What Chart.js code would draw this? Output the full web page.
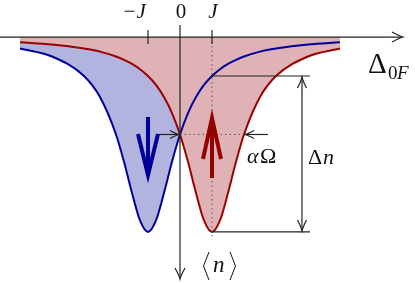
<!DOCTYPE html>
<html>
<head>
<meta charset="utf-8">
<script src="https://cdn.jsdelivr.net/npm/chart.js@4"></script>
<style>
  body { margin: 0; background: #fff; }
  canvas { display: block; }
</style>
</head>
<body>
<canvas id="chart" width="415" height="283"></canvas>
<script>
// detuning in units of J
const deltas = [-5, -4, -3, -2.5, -2, -1.75, -1.5, -1.25, -1, -0.75, -0.5, -0.25, 0,
  0.25, 0.5, 0.75, 1, 1.25, 1.5, 1.75, 2, 2.5, 3, 4, 5];
// <n> for spin down (blue) and spin up (red), normalised to the dip depth
const nDown = [0.059, 0.1, 0.2, 0.308, 0.5, 0.64, 0.8, 0.941, 1, 0.941, 0.8, 0.64, 0.5,
  0.39, 0.308, 0.246, 0.2, 0.165, 0.138, 0.117, 0.1, 0.075, 0.059, 0.038, 0.027];
const nUp = [0.027, 0.038, 0.059, 0.075, 0.1, 0.117, 0.138, 0.165, 0.2, 0.246, 0.308, 0.39, 0.5,
  0.64, 0.8, 0.941, 1, 0.941, 0.8, 0.64, 0.5, 0.308, 0.2, 0.1, 0.059];
const tickValues = [-1, 0, 1];
const tickLabels = ["\u2212J", "0", "J"];

const BLUE = "#000099";
const RED = "#990000";
const SERIF = "'Liberation Serif', 'DejaVu Serif', serif";

function toPoints(ys) {
  return deltas.map(function (d, i) { return { x: d, y: ys[i] }; });
}

// open "to"-style arrow head
function openHead(ctx, tx, ty, dx, dy, len, w) {
  let px = -dy, py = dx;
  let bx = tx - dx * len, by = ty - dy * len;
  ctx.beginPath();
  ctx.moveTo(bx + px * w, by + py * w);
  ctx.quadraticCurveTo(tx - dx * len * 0.35 + px * w * 0.2, ty - dy * len * 0.35 + py * w * 0.2, tx, ty);
  ctx.quadraticCurveTo(tx - dx * len * 0.35 - px * w * 0.2, ty - dy * len * 0.35 - py * w * 0.2, bx - px * w, by - py * w);
  ctx.stroke();
}

function line(ctx, x1, y1, x2, y2) {
  ctx.beginPath();
  ctx.moveTo(x1, y1);
  ctx.lineTo(x2, y2);
  ctx.stroke();
}

const sketch = {
  id: "sketch",
  afterDraw: function (chart) {
    let ctx = chart.ctx;
    let xs = chart.scales.x, ys = chart.scales.y;
    let X = function (v) { return xs.getPixelForValue(v); };
    let Y = function (v) { return ys.getPixelForValue(v); };
    let x0 = X(0), y0 = Y(0);
    ctx.save();

    // dotted guides
    ctx.strokeStyle = "#555";
    ctx.lineWidth = 1;
    ctx.setLineDash([1.5, 3]);
    line(ctx, X(1), y0, X(1), Y(1.04));
    line(ctx, x0, Y(0.5), X(2), Y(0.5));
    ctx.setLineDash([]);

    // axes
    ctx.strokeStyle = "#222";
    ctx.lineWidth = 1.2;
    line(ctx, 0, y0, 402, y0);
    openHead(ctx, 403, y0, 1, 0, 11, 5);
    line(ctx, x0, 25, x0, 278);
    openHead(ctx, x0, 279, 0, 1, 11, 5);
    tickValues.forEach(function (v) {
      if (v !== 0) line(ctx, X(v), y0 - 7, X(v), y0 + 7);
    });

    // tick labels
    ctx.fillStyle = "#111";
    ctx.textAlign = "center";
    ctx.textBaseline = "alphabetic";
    tickValues.forEach(function (v, i) {
      ctx.font = (v === 0 ? "" : "italic ") + "21px " + SERIF;
      let off = v < 0 ? -14 : 1;
      ctx.fillText(tickLabels[i], X(v) + off, 18);
    });

    // Delta n bracket
    ctx.lineWidth = 1.2;
    let yTop = Y(nDown[deltas.indexOf(1)]), yBot = Y(1);
    line(ctx, X(1), yTop, 310, yTop);
    line(ctx, X(1), yBot, 310, yBot);
    line(ctx, 302, yTop + 1, 302, yBot - 1);
    openHead(ctx, 302, yTop + 1, 0, -1, 11, 4.5);
    openHead(ctx, 302, yBot - 1, 0, 1, 11, 4.5);

    // alpha Omega arrows
    line(ctx, 158, Y(0.5), x0 - 1, Y(0.5));
    openHead(ctx, x0 - 1, Y(0.5), 1, 0, 9, 4);
    line(ctx, 268, Y(0.5), X(2) + 1, Y(0.5));
    openHead(ctx, X(2) + 1, Y(0.5), -1, 0, 9, 4);

    // spin arrows
    ctx.lineWidth = 4;
    ctx.lineJoin = "miter";
    ctx.strokeStyle = BLUE;
    line(ctx, X(-1), 117, X(-1), 172);
    ctx.beginPath();
    ctx.moveTo(X(-1) - 10, 134);
    ctx.lineTo(X(-1), 175);
    ctx.lineTo(X(-1) + 10, 134);
    ctx.stroke();
    ctx.strokeStyle = RED;
    line(ctx, X(1), 178, X(1), 122);
    ctx.beginPath();
    ctx.moveTo(X(1) - 9, 159);
    ctx.lineTo(X(1), 118);
    ctx.lineTo(X(1) + 9, 159);
    ctx.stroke();
    ctx.strokeStyle = "#333";
    ctx.lineWidth = 1;
    ctx.setLineDash([1.5, 3]);
    line(ctx, X(1), 120, X(1), 178);
    ctx.setLineDash([]);

    // labels
    ctx.fillStyle = "#111";
    ctx.textAlign = "left";
    ctx.font = "29px " + SERIF;
    ctx.fillText("\u0394", 368, 73);
    ctx.font = "19px " + SERIF;
    ctx.fillText("0", 388, 79);
    ctx.font = "italic 19px " + SERIF;
    ctx.fillText("F", 397, 79);

    ctx.font = "italic 22px " + SERIF;
    ctx.fillText("\u03b1", 247, 163);
    ctx.font = "22px " + SERIF;
    ctx.fillText("\u03a9", 260, 163);
    ctx.fillText("\u0394", 308, 164);
    ctx.font = "italic 22px " + SERIF;
    ctx.fillText("n", 323, 164);

    // <n>
    ctx.lineWidth = 1;
    ctx.strokeStyle = "#111";
    ctx.beginPath();
    ctx.moveTo(209, 252); ctx.lineTo(203.5, 266); ctx.lineTo(209, 280);
    ctx.moveTo(230, 252); ctx.lineTo(235.5, 266); ctx.lineTo(230, 280);
    ctx.stroke();
    ctx.font = "italic 23px " + SERIF;
    ctx.fillText("n", 213, 272);

    ctx.restore();
  }
};

new Chart(document.getElementById("chart"), {
  type: "line",
  data: {
    datasets: [
      {
        label: "up",
        data: toPoints(nUp),
        borderColor: RED,
        borderWidth: 2,
        backgroundColor: "#dfb3b5",
        fill: "origin",
        pointRadius: 0,
        cubicInterpolationMode: "monotone"
      },
      {
        label: "down",
        data: toPoints(nDown),
        borderColor: BLUE,
        borderWidth: 2,
        backgroundColor: "#b3b3df",
        fill: "origin",
        pointRadius: 0,
        cubicInterpolationMode: "monotone"
      }
    ]
  },
  options: {
    responsive: false,
    devicePixelRatio: 1,
    animation: false,
    layout: { padding: 0 },
    plugins: {
      legend: { display: false },
      tooltip: { enabled: false },
      filler: { drawTime: "beforeDatasetsDraw" }
    },
    scales: {
      x: { type: "linear", display: false, min: -5.625, max: 7.344 },
      y: { type: "linear", display: false, reverse: true, min: -0.19, max: 1.262 }
    }
  },
  plugins: [sketch]
});
</script>
</body>
</html>
